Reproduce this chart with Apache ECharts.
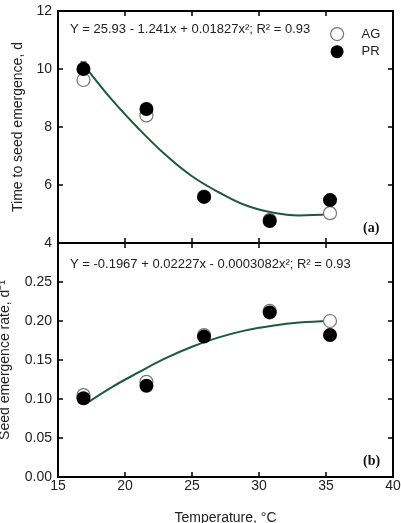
<!DOCTYPE html>
<html>
<head>
<meta charset="utf-8">
<script src="https://cdn.jsdelivr.net/npm/echarts@6/dist/echarts.min.js"></script>
<style>
  html, body { margin: 0; padding: 0; background: #fff; }
  #chart { width: 401px; height: 523px; }
</style>
</head>
<body>
<div id="chart"></div>
<script>
// temperatures (°C)
const temps = [16.9, 21.6, 25.9, 30.8, 35.3]
// (a) time to seed emergence, d
const timeAG = [9.62, 8.4, 5.6, 4.8, 5.03]
const timePR = [10.0, 8.62, 5.59, 4.76, 5.48]
// (b) seed emergence rate, d-1
const rateAG = [0.105, 0.122, 0.182, 0.213, 0.200]
const ratePR = [0.101, 0.117, 0.180, 0.211, 0.182]
// fitted curves
const fitX = [17, 19, 21, 23, 25, 27, 29, 31, 33, 35.3]
const fitTime = [10.1, 8.95, 7.95, 7.05, 6.3, 5.75, 5.3, 5.05, 4.95, 5.0]
const fitRate = [0.093, 0.115, 0.134, 0.152, 0.167, 0.179, 0.188, 0.194, 0.198, 0.200]
// error bar on PR at 17 °C (panel a)
const errPR = [[16.9, 9.76, 10.24]]

const font = 'Liberation Sans, Arial, sans-serif'
const pair = (xs, ys) => xs.map((x, i) => [x, ys[i]])

const chart = echarts.init(document.getElementById('chart'))

const xBase = (gridIndex, show) => ({
  type: 'value', gridIndex, min: 15, max: 40, interval: 5,
  axisLine: { show: true, onZero: false, lineStyle: { color: '#000', width: 2 } },
  axisTick: { show: true, inside: true, length: 5, lineStyle: { color: '#000', width: 1.5 } },
  axisLabel: { show, color: '#222', fontSize: 14, fontFamily: font, margin: 2 },
  splitLine: { show: false }
})
const yBase = (gridIndex, min, max, interval, fmt) => ({
  type: 'value', gridIndex, min, max, interval,
  axisLine: { show: true, onZero: false, lineStyle: { color: '#000', width: 2 } },
  axisTick: { show: true, inside: true, length: 5, lineStyle: { color: '#000', width: 1.5 } },
  axisLabel: { show: true, color: '#222', fontSize: 14, fontFamily: font, margin: 6, formatter: fmt },
  splitLine: { show: false }
})

const xAxis = [
  Object.assign(xBase(0, false), { position: 'bottom' }),
  Object.assign(xBase(0, false), { position: 'top' }),
  Object.assign(xBase(1, true), {
    position: 'bottom', name: 'Temperature, °C', nameLocation: 'middle', nameGap: 34,
    nameTextStyle: { color: '#222', fontSize: 14, fontFamily: font }
  }),
  Object.assign(xBase(1, false), { position: 'top' })
]
const yAxis = [
  Object.assign(yBase(0, 4, 12, 2, v => String(v)), {
    position: 'left', name: 'Time to seed emergence, d', nameLocation: 'middle', nameGap: 33,
    nameTextStyle: { color: '#222', fontSize: 14, fontFamily: font }
  }),
  Object.assign(yBase(0, 4, 12, 2), { position: 'right', axisLabel: { show: false } }),
  Object.assign(yBase(1, 0, 0.3, 0.05, v => (v > 0.29 ? '' : v.toFixed(2))), {
    position: 'left', name: 'Seed emergence rate, d⁻¹', nameLocation: 'middle', nameGap: 46,
    nameTextStyle: { color: '#222', fontSize: 14, fontFamily: font }
  }),
  Object.assign(yBase(1, 0, 0.3, 0.05), { position: 'right', axisLabel: { show: false } })
]

const fitLine = (xi, yi, data) => ({
  type: 'line', xAxisIndex: xi, yAxisIndex: yi, data, smooth: 0.4, showSymbol: false,
  lineStyle: { color: '#1d5a3c', width: 2 }, z: 2, silent: true
})
const agSeries = (xi, yi, data) => ({
  name: 'AG', type: 'scatter', xAxisIndex: xi, yAxisIndex: yi, data, symbolSize: 13,
  itemStyle: { color: '#fff', borderColor: '#777', borderWidth: 1.2, opacity: 1 }, z: 3
})
const prSeries = (xi, yi, data) => ({
  name: 'PR', type: 'scatter', xAxisIndex: xi, yAxisIndex: yi, data, symbolSize: 14,
  itemStyle: { color: '#000', opacity: 1 }, z: 4
})

chart.setOption({
  animation: false,
  grid: [
    { left: 58, top: 11, width: 335, height: 232, show: false, containLabel: false, outerBoundsMode: 'none' },
    { left: 58, top: 243, width: 335, height: 234, show: false, containLabel: false, outerBoundsMode: 'none' }
  ],
  xAxis,
  yAxis,
  legend: {
    orient: 'vertical', left: 325, top: 22, itemGap: 4, itemWidth: 13, itemHeight: 13,
    textStyle: { color: '#222', fontSize: 13, fontFamily: font, padding: [0, 0, 0, 13] },
    data: [
      { name: 'AG', icon: 'circle', itemStyle: { color: '#fff', borderColor: '#777', borderWidth: 1.2 } },
      { name: 'PR', icon: 'circle', itemStyle: { color: '#000' } }
    ]
  },
  graphic: [
    { type: 'text', left: 70, top: 23, style: { text: 'Y = 25.93 - 1.241x + 0.01827x²; R² = 0.93', fill: '#222', font: '13px ' + font } },
    { type: 'text', left: 70, top: 258, style: { text: 'Y = -0.1967 + 0.02227x - 0.0003082x²; R² = 0.93', fill: '#222', font: '13px ' + font } },
    { type: 'text', left: 363, top: 221, style: { text: '(a)', fill: '#111', font: 'bold 14px Liberation Serif, Times New Roman, serif' } },
    { type: 'text', left: 363, top: 454, style: { text: '(b)', fill: '#111', font: 'bold 14px Liberation Serif, Times New Roman, serif' } }
  ],
  series: [
    fitLine(0, 0, pair(fitX, fitTime)),
    agSeries(0, 0, pair(temps, timeAG)),
    {
      type: 'custom', xAxisIndex: 0, yAxisIndex: 0, data: errPR, z: 3,
      renderItem: (params, api) => {
        const lo = api.coord([api.value(0), api.value(1)])
        const hi = api.coord([api.value(0), api.value(2)])
        const s = { stroke: '#000', lineWidth: 1.2 }
        return {
          type: 'group', children: [
            { type: 'line', shape: { x1: lo[0], y1: lo[1], x2: hi[0], y2: hi[1] }, style: s },
            { type: 'line', shape: { x1: hi[0] - 3, y1: hi[1], x2: hi[0] + 3, y2: hi[1] }, style: s },
            { type: 'line', shape: { x1: lo[0] - 3, y1: lo[1], x2: lo[0] + 3, y2: lo[1] }, style: s }
          ]
        }
      }
    },
    prSeries(0, 0, pair(temps, timePR)),
    fitLine(2, 2, pair(fitX, fitRate)),
    agSeries(2, 2, pair(temps, rateAG)),
    prSeries(2, 2, pair(temps, ratePR))
  ]
})
</script>
</body>
</html>
